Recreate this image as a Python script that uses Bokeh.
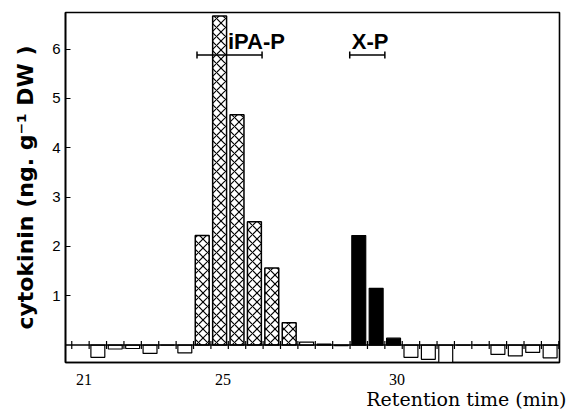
import math
from bokeh.plotting import figure
from bokeh.models import Range1d, FixedTicker, Label, Span, Title
from bokeh.embed import file_html
from bokeh.resources import INLINE

# ---- data (retention time in min, cytokinin in ng/g DW) ----
ipa_times = [24.4, 24.9, 25.4, 25.9, 26.4, 26.9]
ipa_vals = [2.22, 6.67, 4.67, 2.50, 1.56, 0.45]

xp_times = [28.9, 29.4, 29.9]
xp_vals = [2.22, 1.15, 0.14]

other_times = [21.4, 21.9, 22.4, 22.9, 23.4, 23.9, 27.4, 27.9, 28.4,
               30.4, 30.9, 31.4, 31.9, 32.4, 32.9, 33.4, 33.9, 34.4]
other_vals = [-0.25, -0.08, -0.07, -0.17, 0.0, -0.16, 0.06, 0.02, -0.01,
              -0.25, -0.29, -0.37, 0.0, 0.0, -0.19, -0.22, -0.15, -0.26]

fraction_bounds = [20.65, 21.15, 21.65, 22.15, 22.65, 23.15, 23.65, 24.15,
                   24.65, 25.15, 25.65, 26.15, 26.65, 27.15, 27.65, 28.15,
                   28.65, 29.15, 29.65, 30.15, 30.65, 31.15, 31.65, 32.15,
                   32.65, 33.15, 33.65, 34.15, 34.65]

x_ticks = [21, 25, 30]
y_ticks = [1, 2, 3, 4, 5, 6]

ipa_range = [24.25, 26.12]
xp_range = [28.64, 29.65]
bracket_y = 5.88

p = figure(width=569, height=411, output_backend="svg", toolbar_location=None,
           x_range=Range1d(20.47, 34.67), y_range=Range1d(-0.354, 6.74),
           min_border_left=65, min_border_right=10, min_border_top=12,
           min_border_bottom=48)
p.title.visible = False
p.xgrid.visible = False
p.ygrid.visible = False
p.outline_line_color = "black"
p.outline_line_width = 1.6
p.background_fill_color = "white"
p.border_fill_color = "white"

# axes
p.xaxis.ticker = FixedTicker(ticks=x_ticks)
p.xaxis.major_tick_line_color = None
p.xaxis.minor_tick_line_color = None
p.xaxis.axis_line_width = 1.6
p.xaxis.major_label_standoff = 5
p.xaxis.major_label_text_font = "Liberation Serif"
p.xaxis.major_label_text_font_size = "16px"
p.xaxis.major_label_text_color = "black"

p.yaxis.ticker = FixedTicker(ticks=y_ticks)
p.yaxis.major_tick_in = 5
p.yaxis.major_tick_out = 0
p.yaxis.major_tick_line_width = 1.2
p.yaxis.minor_tick_line_color = None
p.yaxis.axis_line_width = 1.6
p.yaxis.major_label_standoff = 5
p.yaxis.major_label_text_font = "Liberation Sans"
p.yaxis.major_label_text_font_size = "15px"
p.yaxis.major_label_text_color = "black"
p.yaxis.axis_label = "cytokinin (ng. g\u207b\u00b9 DW )"
p.yaxis.axis_label_text_font = "DejaVu Sans"
p.yaxis.axis_label_text_font_style = "bold"
p.yaxis.axis_label_text_font_size = "22px"
p.yaxis.axis_label_text_color = "black"
p.yaxis.axis_label_standoff = 11

# x-axis title, right aligned below the axis
p.add_layout(Title(text="Retention time (min)", align="right", offset=-7,
                   vertical_align="top",
                   text_font="DejaVu Serif", text_font_size="19px",
                   text_font_style="normal", text_color="black",
                   standoff=0), "below")

# baseline and fraction ticks
p.add_layout(Span(location=0, dimension="width", line_color="black", line_width=1.5))
p.segment(x0=fraction_bounds, y0=-0.08, x1=fraction_bounds, y1=0.08,
          line_color="black", line_width=1.2)

# bars
p.vbar(x=other_times, top=other_vals, bottom=0, width=0.40,
       fill_color="white", line_color="black", line_width=1.2)
p.vbar(x=ipa_times, top=ipa_vals, bottom=0, width=0.40,
       fill_color="white", line_color="black", line_width=1.5,
       hatch_pattern="diagonal_cross", hatch_color="black",
       hatch_scale=9, hatch_weight=1.2)
p.vbar(x=xp_times, top=xp_vals, bottom=0, width=0.40,
       fill_color="black", line_color="black", line_width=1.2)

# elution range brackets
for rng in (ipa_range, xp_range):
    p.segment(x0=[rng[0]], y0=[bracket_y], x1=[rng[1]], y1=[bracket_y],
              line_color="black", line_width=1.5)
    p.scatter(x=rng, y=[bracket_y, bracket_y], marker="dash", angle=math.pi / 2,
              size=7, line_color="black", line_width=1.5)

p.add_layout(Label(x=25.14, y=6.16, text="iPA-P", text_font="Liberation Sans",
                   text_font_style="bold", text_font_size="22px",
                   text_color="black", text_baseline="alphabetic"))
p.add_layout(Label(x=28.70, y=6.16, text="X-P", text_font="Liberation Sans",
                   text_font_style="bold", text_font_size="22px",
                   text_color="black", text_baseline="alphabetic"))

open("out.html", "w").write(file_html(p, INLINE))
